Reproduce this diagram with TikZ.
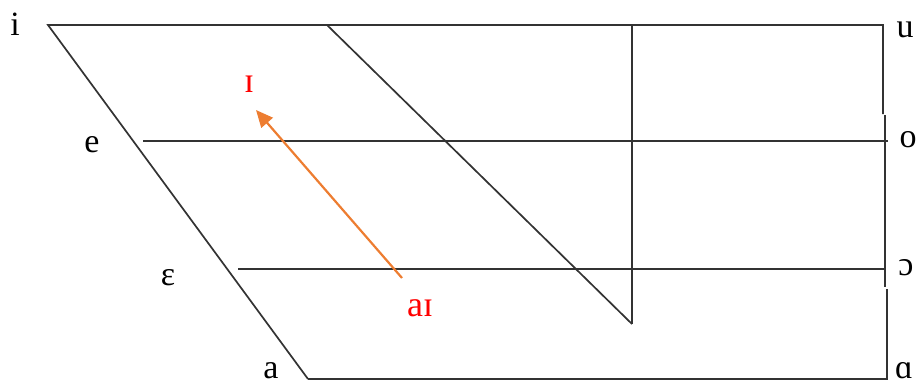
\documentclass[tikz,border=0pt]{standalone}
\usepackage{fontspec}
\setmainfont{Liberation Serif}
\usetikzlibrary{arrows.meta}
\definecolor{chartline}{HTML}{333333}
\definecolor{glide}{HTML}{ED7D31}
\begin{document}
\begin{tikzpicture}[
    x=1pt, y=-1pt,
    edge/.style={draw=chartline, line width=1.7pt},
    vowel/.style={anchor=base, inner sep=0pt, font=\fontsize{34}{34}\selectfont},
    target/.style={vowel, text=red, font=\fontsize{36}{36}\selectfont},
    glidearrow/.style={-{Triangle[length=17pt, width=15pt]}, draw=glide, line width=2.2pt},
  ]
    \useasboundingbox (0,0) rectangle (917,386);

    % corners of the chart
    \coordinate (front-high) at (48,25);
    \coordinate (back-high)  at (883,25);
    \coordinate (front-low)  at (308,379);
    \coordinate (back-low)   at (887,379);
    \coordinate (mid-top)    at (327,25);
    \coordinate (mid-bottom) at (632,324);
    \coordinate (cen-top)    at (632,25);

    \draw[edge] (front-low) -- (front-high) -- (back-high) -- (883,114);
    \draw[edge] (885,115) -- (885,287);
    \draw[edge] (887,289) -- (back-low) -- (front-low);
    \draw[edge] (143,141) -- (888,141);
    \draw[edge] (238,269) -- (885,269);
    \draw[edge] (mid-top) -- (mid-bottom);
    \draw[edge] (cen-top) -- (cen-top |- mid-bottom);

    \node[vowel] (i)       at (15,35)   {i};
    \node[vowel] (u)       at (905,37)  {u};
    \node[vowel] (e)       at (92,152)  {e};
    \node[vowel] (o)       at (908,147) {o};
    \node[vowel] (epsilon) at (168,285) {ɛ};
    \node[vowel] (openo)   at (906,275) {ɔ};
    \node[vowel] (a)       at (271,378) {a};
    \node[vowel] (alpha)   at (904,378) {ɑ};

    \node[target] (lax-i) at (249,92)  {ɪ};
    \node[target] (ai)    at (420,316) {aɪ};

    \coordinate (glide-start) at (402,278);
    \coordinate (glide-end)   at (256,110);
    \draw[glidearrow] (glide-start) -- (glide-end);
\end{tikzpicture}
\end{document}
